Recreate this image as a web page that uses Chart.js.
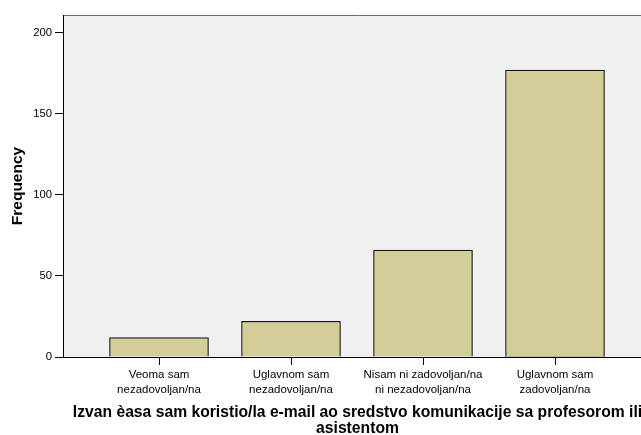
<!DOCTYPE html>
<html>
<head>
<meta charset="utf-8">
<script src="https://cdn.jsdelivr.net/npm/chart.js@4/dist/chart.umd.min.js"></script>
<style>
html,body{margin:0;padding:0;background:#fff;overflow:hidden;width:641px;height:435px;}
canvas{display:block;}
</style>
</head>
<body>
<canvas id="c" width="664" height="435"></canvas>
<script>
const categories = [
  ["Veoma sam", "nezadovoljan/na"],
  ["Uglavnom sam", "nezadovoljan/na"],
  ["Nisam ni zadovoljan/na", "ni nezadovoljan/na"],
  ["Uglavnom sam", "zadovoljan/na"]
];
const frequencies = [12, 22, 66, 177];
const yTicks = [0, 50, 100, 150, 200];
const xTitle = ["Izvan èasa sam koristio/la e-mail ao sredstvo komunikacije sa profesorom ili", "asistentom"];
const yTitle = "Frequency";

const points = frequencies.map((v, i) => ({x: i, y: v}));

const plotBg = {
  id: 'plotBg',
  beforeDraw(chart) {
    const {ctx, chartArea: a} = chart;
    ctx.save();
    ctx.fillStyle = '#F0F0F0';
    ctx.fillRect(a.left, a.top, a.right - a.left, a.bottom - a.top);
    ctx.strokeStyle = '#6a6a6a';
    ctx.lineWidth = 1;
    ctx.beginPath();
    ctx.moveTo(a.left, a.top + 0.5);
    ctx.lineTo(a.right, a.top + 0.5);
    ctx.moveTo(a.right - 0.5, a.top);
    ctx.lineTo(a.right - 0.5, a.bottom);
    ctx.stroke();
    ctx.restore();
  }
};

const FONT = 'Liberation Sans, Arial, sans-serif';

new Chart(document.getElementById('c'), {
  type: 'bar',
  data: {
    datasets: [{
      data: points,
      backgroundColor: '#D3CE97',
      borderColor: '#161616',
      borderWidth: 1.2,
      barThickness: 99
    }]
  },
  options: {
    responsive: false,
    animation: false,
    layout: {padding: {top: 15, right: 12, left: 0, bottom: 0}},
    plugins: {legend: {display: false}, tooltip: {enabled: false}},
    scales: {
      x: {
        type: 'linear',
        offset: false,
        min: -96 / 132,
        max: 3 + 97 / 132,
        afterBuildTicks: (s) => { s.ticks = categories.map((c, i) => ({value: i})); },
        afterFit: (s) => { s.height = 78; },
        ticks: {
          callback: (v) => categories[v],
          color: '#000',
          font: {family: FONT, size: 11.5, lineHeight: '15px'},
          padding: 2,
          maxRotation: 0,
          autoSkip: false
        },
        grid: {display: true, offset: false, drawOnChartArea: false, drawTicks: true, tickLength: 8, color: '#000', tickColor: '#000'},
        border: {display: true, color: '#000', width: 1},
        title: {
          display: true,
          text: xTitle,
          color: '#000',
          font: {family: FONT, size: 15.7, weight: 'bold', lineHeight: '16.5px'},
          padding: {top: 0, bottom: -2}
        }
      },
      y: {
        min: 0,
        max: 211,
        afterBuildTicks: (s) => { s.ticks = yTicks.map(v => ({value: v})); },
        afterFit: (s) => { s.width = 63; },
        ticks: {
          color: '#000',
          font: {family: FONT, size: 11.3},
          padding: 3
        },
        grid: {display: true, drawOnChartArea: false, drawTicks: true, tickLength: 8, color: '#000', tickColor: '#000'},
        border: {display: true, color: '#000', width: 1},
        title: {
          display: true,
          text: yTitle,
          color: '#000',
          font: {family: FONT, size: 15.5, weight: 'bold', lineHeight: '18px'},
          padding: {top: 9, bottom: 0}
        }
      }
    }
  },
  plugins: [plotBg]
});
</script>
</body>
</html>
